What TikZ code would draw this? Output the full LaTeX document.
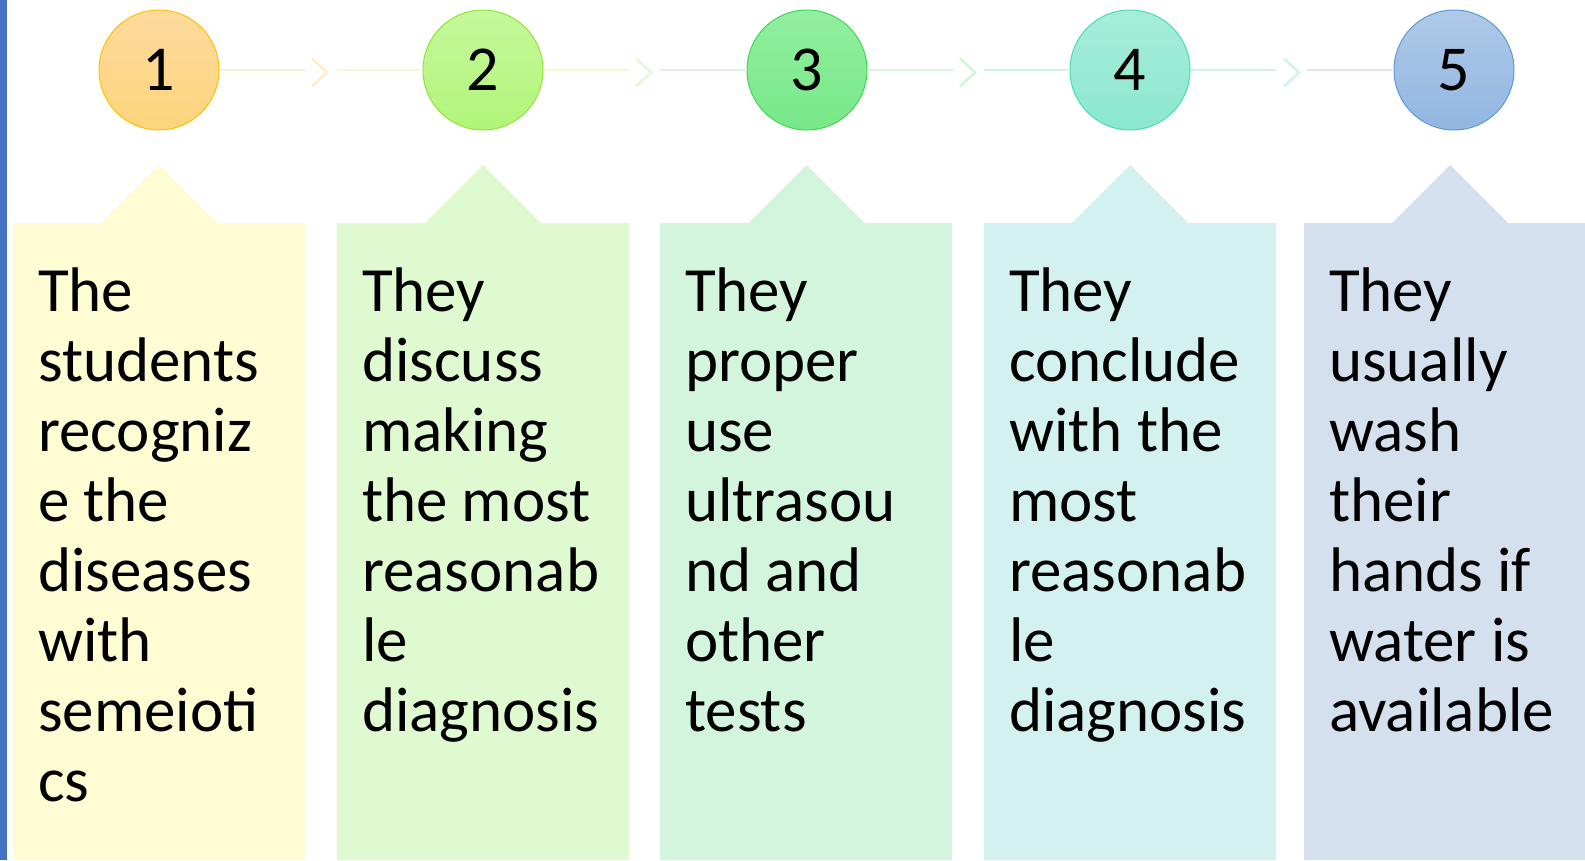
\documentclass[tikz,border=0pt]{standalone}
\usepackage{fontspec}
\setmainfont{Carlito}
% colours of the five steps
\definecolor{leftbar}{HTML}{4472C4}
\definecolor{boxA}{HTML}{FEFCD2}
\definecolor{boxB}{HTML}{DFF9D1}
\definecolor{boxC}{HTML}{D3F5DE}
\definecolor{boxD}{HTML}{D3F2EF}
\definecolor{boxE}{HTML}{D5E0EE}
\definecolor{topA}{HTML}{FDDA9C}\definecolor{botA}{HTML}{FED47C}\definecolor{rimA}{HTML}{FFC000}
\definecolor{topB}{HTML}{C5F89A}\definecolor{botB}{HTML}{B1F57A}\definecolor{rimB}{HTML}{8EE52F}
\definecolor{topC}{HTML}{92EFA0}\definecolor{botC}{HTML}{77E888}\definecolor{rimC}{HTML}{3BD854}
\definecolor{topD}{HTML}{A6EDDA}\definecolor{botD}{HTML}{8BE8CF}\definecolor{rimD}{HTML}{45DDB8}
\definecolor{topE}{HTML}{AFC9E8}\definecolor{botE}{HTML}{92B6E2}\definecolor{rimE}{HTML}{5B9BD5}
\definecolor{lkAa}{HTML}{FDEBD3}\definecolor{chA}{HTML}{FFEFC9}\definecolor{lkAb}{HTML}{F2F9D5}
\definecolor{lkBa}{HTML}{EEFAD5}\definecolor{chB}{HTML}{E4F9D6}\definecolor{lkBb}{HTML}{D8F6DB}
\definecolor{lkCa}{HTML}{D5F5DC}\definecolor{chC}{HTML}{D2F6DC}\definecolor{lkCb}{HTML}{D0F3E2}
\definecolor{lkDa}{HTML}{CFF3E6}\definecolor{chD}{HTML}{D0F3EC}\definecolor{lkDb}{HTML}{D3E8F2}
% a column of text lines, anchored on the baseline of its first line
\newcommand\linesof[1]{\vtop{\baselineskip=70pt\lineskip=0pt\lineskiplimit=-200pt\halign{##\hfil\cr#1\crcr}}}
\begin{document}
\begin{tikzpicture}[x=1pt,y=-1pt,
  num/.style={circle, minimum size=120pt, inner sep=0pt, line width=1pt,
    font=\fontsize{64}{70}\selectfont},
  linkline/.style={line width=2pt},
  chev/.style={line width=2.6pt},
  steptext/.style={anchor=base west, inner sep=0pt, text=black,
    font=\fontsize{63}{70}\selectfont}
]
\useasboundingbox (0,0) rectangle (1585,860);
\fill[white] (0,0) rectangle (1585,860);

% text panels with a pointer towards their circle
\foreach \L/\c/\col in {13/159/boxA, 337/483/boxB, 660/806.5/boxC, 984/1130/boxD, 1304/1450/boxE}{
  \fill[\col] (\L,860) -- (\L,223) -- (\c-58,223) -- (\c,165) -- (\c+58,223)
    -- (\L+292,223) -- (\L+292,860) -- cycle;
}

% numbered circles
\node[num, draw=rimA, top color=topA, bottom color=botA] (c1) at (159,70) {1};
\node[num, draw=rimB, top color=topB, bottom color=botB] (c2) at (483,70) {2};
\node[num, draw=rimC, top color=topC, bottom color=botC] (c3) at (807,70) {3};
\node[num, draw=rimD, top color=topD, bottom color=botD] (c4) at (1130,70) {4};
\node[num, draw=rimE, top color=topE, bottom color=botE] (c5) at (1454,70) {5};

% links between circles, broken by a chevron in each gap
\coordinate (g1a) at (305,70); \coordinate (g1b) at (337,70);
\coordinate (g2a) at (629,70); \coordinate (g2b) at (660,70);
\coordinate (g3a) at (953,70); \coordinate (g3b) at (984,70);
\coordinate (g4a) at (1276,70); \coordinate (g4b) at (1307,70);

\draw[linkline, lkAa] (c1.east) -- (g1a);
\draw[linkline, lkAb] (g1b) -- (c2.west);
\draw[chev, chA] ([shift={(7,-11.5)}]g1a) -- ++(15,14) -- ++(-15,14);

\draw[linkline, lkBa] (c2.east) -- (g2a);
\draw[linkline, lkBb] (g2b) -- (c3.west);
\draw[chev, chB] ([shift={(7,-11.5)}]g2a) -- ++(15,14) -- ++(-15,14);

\draw[linkline, lkCa] (c3.east) -- (g3a);
\draw[linkline, lkCb] (g3b) -- (c4.west);
\draw[chev, chC] ([shift={(7,-11.5)}]g3a) -- ++(15,14) -- ++(-15,14);

\draw[linkline, lkDa] (c4.east) -- (g4a);
\draw[linkline, lkDb] (g4b) -- (c5.west);
\draw[chev, chD] ([shift={(8,-11.5)}]g4a) -- ++(15,14) -- ++(-15,14);

% step descriptions
\node[steptext] (t1) at (38,311.7) {\linesof{The\cr students\cr recogniz\cr e the\cr diseases\cr with\cr semeioti\cr cs}};
\node[steptext] (t2) at (362,311.7) {\linesof{They\cr discuss\cr making\cr the most\cr reasonab\cr le\cr diagnosis}};
\node[steptext] (t3) at (685,311.7) {\linesof{They\cr proper\cr use\cr ultrasou\cr nd and\cr other\cr tests}};
\node[steptext] (t4) at (1009,311.7) {\linesof{They\cr conclude\cr with the\cr most\cr reasonab\cr le\cr diagnosis}};
\node[steptext] (t5) at (1329,311.7) {\linesof{They\cr usually\cr wash\cr their\cr hands if\cr water is\cr available}};

% left border bar
\fill[leftbar] (0,0) rectangle (7,860);
\end{tikzpicture}
\end{document}
